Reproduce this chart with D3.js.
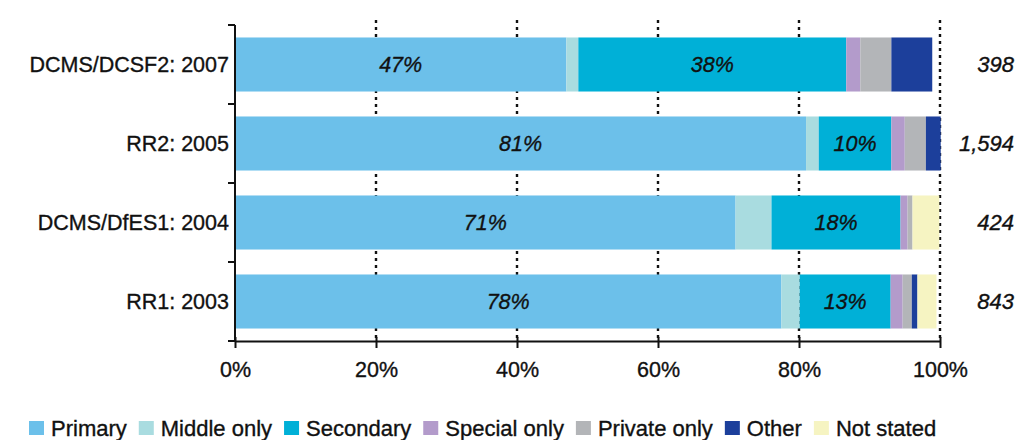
<!DOCTYPE html>
<html>
<head>
<meta charset="utf-8">
<script src="https://cdn.jsdelivr.net/npm/d3@7/dist/d3.min.js"></script>
<style>
  html, body { margin: 0; padding: 0; background: #ffffff; }
  svg { display: block; font-family: "Liberation Sans", Arial, sans-serif; }
  text { stroke: #111; stroke-width: 0.35px; }
</style>
</head>
<body>
<svg id="chart" width="1018" height="440"></svg>
<script>
// ---- data ----
const categories = ["DCMS/DCSF2: 2007", "RR2: 2005", "DCMS/DfES1: 2004", "RR1: 2003"];
const seriesNames = ["Primary", "Middle only", "Secondary", "Special only", "Private only", "Other", "Not stated"];
const primary     = [47.0, 81.0, 71.0, 77.5];
const middleOnly  = [1.7, 1.8, 5.1, 2.6];
const secondary   = [38.0, 10.3, 18.3, 12.9];
const specialOnly = [2.0, 1.9, 1.0, 1.7];
const privateOnly = [4.4, 3.0, 0.7, 1.3];
const other       = [5.8, 2.1, 0.0, 0.8];
const notStated   = [0.0, 0.0, 3.8, 2.7];
const sampleSizes = ["398", "1,594", "424", "843"];
const xTicks = [0, 20, 40, 60, 80, 100];
const labelledSeries = ["Primary", "Secondary"];

const colors = ["#6cc0ea", "#a9dce0", "#00b0d7", "#b39bcb", "#b3b5b8", "#1c3f9b", "#f6f4c2"];

// ---- build table ----
const seriesValues = [primary, middleOnly, secondary, specialOnly, privateOnly, other, notStated];
const table = categories.map((c, i) => {
  const row = { category: c, n: sampleSizes[i] };
  seriesNames.forEach((s, j) => row[s] = seriesValues[j][i]);
  return row;
});
const stacked = d3.stack().keys(seriesNames)(table);

const svg = d3.select("#chart");
const plotLeft = 235, plotRight = 940, plotTop = 25, plotBottom = 341;

const x = d3.scaleLinear().domain([0, 100]).range([plotLeft, plotRight]);
const y = d3.scaleBand().domain(categories).range([plotTop, plotBottom]).paddingInner(0.316).paddingOuter(0.158);
const color = d3.scaleOrdinal().domain(seriesNames).range(colors);

// gridlines (behind bars)
svg.append("g").selectAll("line")
  .data(xTicks.filter(t => t > 0))
  .join("line")
  .attr("x1", d => x(d)).attr("x2", d => x(d))
  .attr("y1", 20).attr("y2", plotBottom)
  .attr("stroke", "#111")
  .attr("stroke-width", 2.4)
  .attr("stroke-dasharray", "3,4");

// bars
svg.append("g").selectAll("g")
  .data(stacked)
  .join("g")
  .attr("fill", d => color(d.key))
  .selectAll("rect")
  .data(d => d)
  .join("rect")
  .attr("x", d => x(d[0]))
  .attr("width", d => Math.max(0, x(d[1]) - x(d[0])))
  .attr("y", d => y(d.data.category))
  .attr("height", y.bandwidth());

// segment percentage labels
const lab = svg.append("g");
stacked.filter(s => labelledSeries.includes(s.key)).forEach(s => {
  lab.append("g").selectAll("text")
    .data(s)
    .join("text")
    .attr("x", d => (x(d[0]) + x(d[1])) / 2)
    .attr("y", d => y(d.data.category) + y.bandwidth() / 2)
    .attr("dy", "0.36em")
    .attr("text-anchor", "middle")
    .attr("font-style", "italic")
    .attr("font-size", 21.5)
    .attr("fill", "#111")
    .text(d => Math.round(d[1] - d[0]) + "%");
});

// sample size labels
svg.append("g").selectAll("text")
  .data(table)
  .join("text")
  .attr("x", 1014)
  .attr("y", d => y(d.category) + y.bandwidth() / 2)
  .attr("dy", "0.36em")
  .attr("text-anchor", "end")
  .attr("font-style", "italic")
  .attr("font-size", 22)
  .attr("fill", "#111")
  .text(d => d.n);

// x axis
const xAxis = d3.axisBottom(x).tickValues(xTicks).tickFormat(d => d + "%").tickSizeInner(7).tickSizeOuter(0).tickPadding(14);
const gx = svg.append("g").attr("transform", `translate(0,${plotBottom})`).call(xAxis);
gx.select(".domain").attr("stroke", "#111").attr("stroke-width", 2);
gx.selectAll(".tick line").attr("stroke", "#111").attr("stroke-width", 2).attr("y1", -4);
gx.selectAll(".tick text").attr("font-size", 21.5).attr("fill", "#111").attr("font-family", "Liberation Sans, Arial, sans-serif");

// y axis
const boundaries = [plotTop].concat(categories.map(c => y(c) + y.bandwidth() + y.step() * y.paddingInner() / 2));
const gy = svg.append("g");
gy.append("line").attr("x1", plotLeft).attr("x2", plotLeft).attr("y1", plotTop).attr("y2", plotBottom + 1)
  .attr("stroke", "#111").attr("stroke-width", 2);
gy.selectAll(".bt").data(boundaries).join("line")
  .attr("class", "bt")
  .attr("x1", plotLeft - 7).attr("x2", plotLeft)
  .attr("y1", d => d).attr("y2", d => d)
  .attr("stroke", "#111").attr("stroke-width", 2);
gy.selectAll(".cl").data(categories).join("text")
  .attr("class", "cl")
  .attr("x", 229)
  .attr("y", d => y(d) + y.bandwidth() / 2)
  .attr("dy", "0.36em")
  .attr("text-anchor", "end")
  .attr("font-size", 21.5)
  .attr("fill", "#111")
  .text(d => d);

// legend (flow layout)
const legend = svg.append("g").attr("transform", "translate(29,428)");
let cx = 0;
seriesNames.forEach((name, i) => {
  const g = legend.append("g").attr("transform", `translate(${cx},0)`);
  g.append("rect").attr("x", 0).attr("y", -7).attr("width", 15).attr("height", 14).attr("fill", color(name));
  const t = g.append("text").attr("x", 22).attr("y", 0).attr("dy", "0.36em")
    .attr("font-size", 22).attr("fill", "#111").text(name);
  cx += 22 + t.node().getComputedTextLength() + 12;
});
</script>
</body>
</html>
